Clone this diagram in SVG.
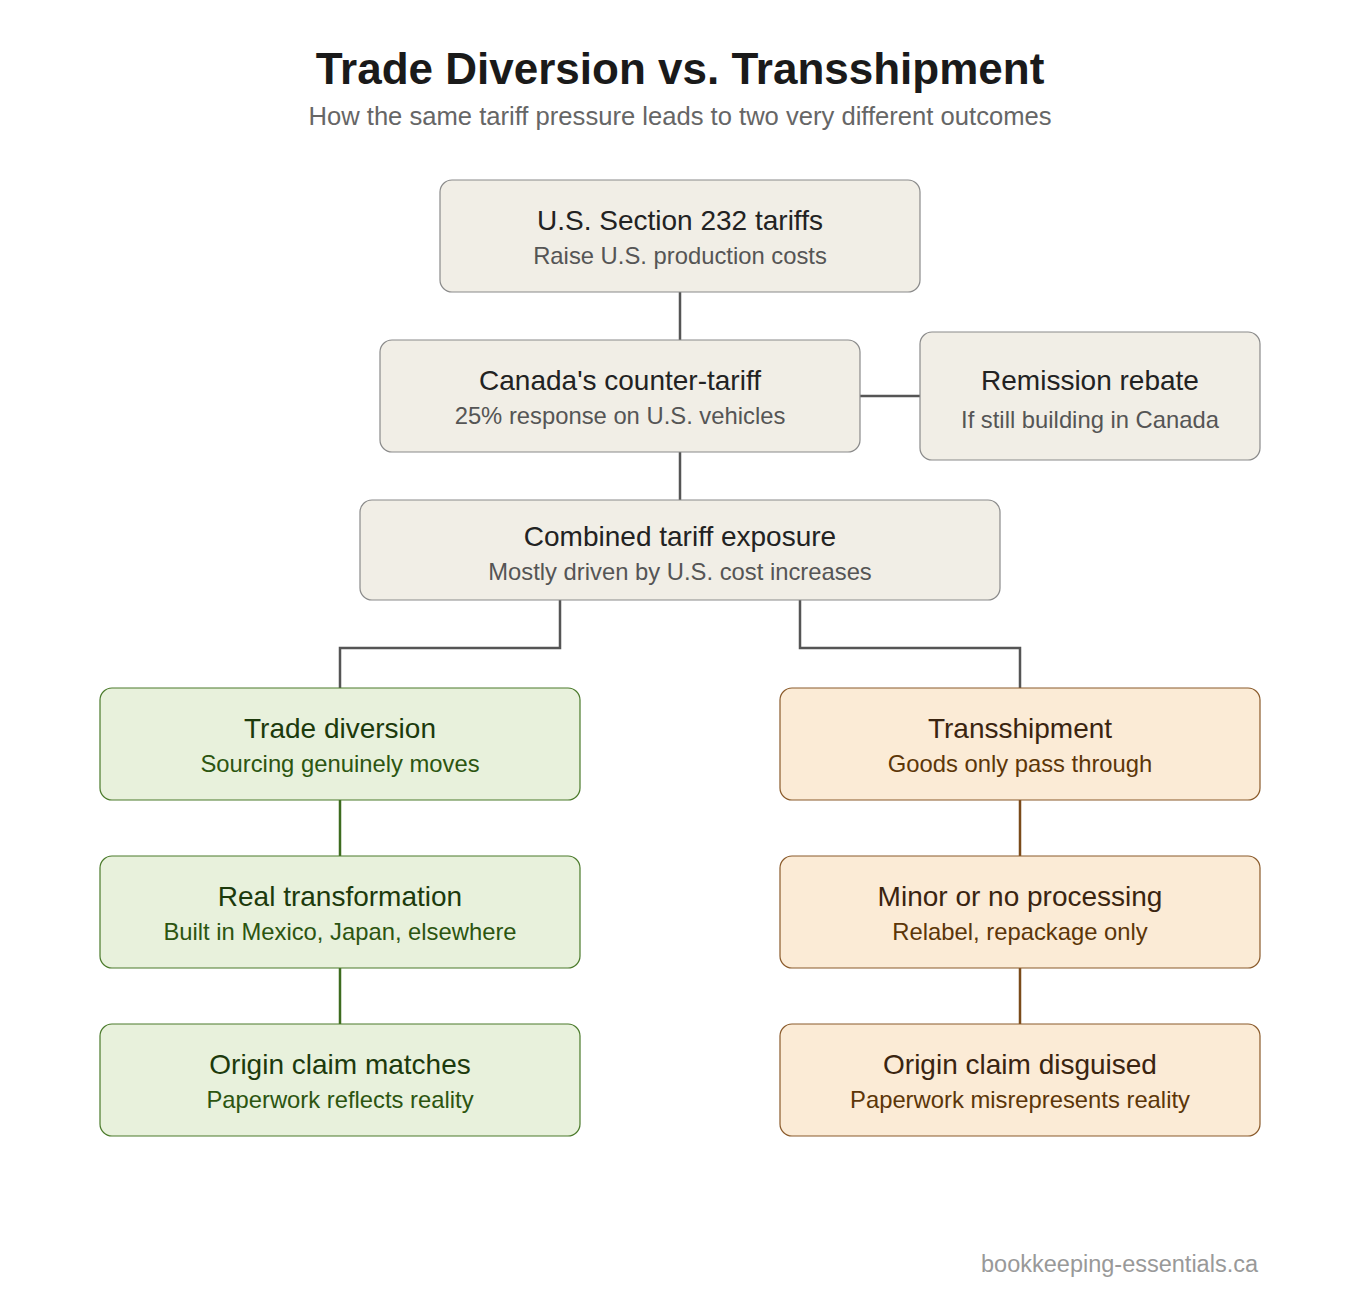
<svg xmlns="http://www.w3.org/2000/svg" width="1360" height="1300" viewBox="0 0 1360 1300">
<style>
text{font-family:"Liberation Sans",Arial,sans-serif;text-anchor:middle}
.n rect{fill:#f1eee6;stroke:#8a8a8a;stroke-width:1.2}
.g rect{fill:#e8f1dc;stroke:#4a7a2a;stroke-width:1.2}
.o rect{fill:#fbebd6;stroke:#8a5a2a;stroke-width:1.2}
.t{font-size:28px;fill:#222}
.s{font-size:23.8px;fill:#555}
.g .t{fill:#1c3a0c}.g .s{fill:#2c5510}
.o .t{fill:#3a2410}.o .s{fill:#5c3608}
.c path{fill:none;stroke-width:2.5}
</style>
<rect width="1360" height="1300" fill="#fff"/>
<text x="680" y="84" style="font-size:44px;font-weight:bold;fill:#1a1a1a">Trade Diversion vs. Transshipment</text>
<text x="680" y="125" style="font-size:25.6px;fill:#666">How the same tariff pressure leads to two very different outcomes</text>
<g class="c">
<path d="M680 292V340M680 452V500M860 396H920M560 600V648H340V688M800 600V648H1020V688" stroke="#555"/>
<path d="M340 800V856M340 968V1024" stroke="#3d6b1f"/>
<path d="M1020 800V856M1020 968V1024" stroke="#7a4a1a"/>
</g>
<g id="n1" class="n"><rect x="440" y="180" width="480" height="112" rx="12"/><text class="t" x="680" y="230">U.S. Section 232 tariffs</text><text class="s" x="680" y="264">Raise U.S. production costs</text></g>
<g id="n2" class="n"><rect x="380" y="340" width="480" height="112" rx="12"/><text class="t" x="620" y="390">Canada's counter-tariff</text><text class="s" x="620" y="424">25% response on U.S. vehicles</text></g>
<g id="n3" class="n"><rect x="920" y="332" width="340" height="128" rx="12"/><text class="t" x="1090" y="390">Remission rebate</text><text class="s" x="1090" y="428">If still building in Canada</text></g>
<g id="n4" class="n"><rect x="360" y="500" width="640" height="100" rx="12"/><text class="t" x="680" y="546">Combined tariff exposure</text><text class="s" x="680" y="580">Mostly driven by U.S. cost increases</text></g>
<g id="g1" class="g"><rect x="100" y="688" width="480" height="112" rx="12"/><text class="t" x="340" y="738">Trade diversion</text><text class="s" x="340" y="772">Sourcing genuinely moves</text></g>
<g id="g2" class="g"><rect x="100" y="856" width="480" height="112" rx="12"/><text class="t" x="340" y="906">Real transformation</text><text class="s" x="340" y="940">Built in Mexico, Japan, elsewhere</text></g>
<g id="g3" class="g"><rect x="100" y="1024" width="480" height="112" rx="12"/><text class="t" x="340" y="1074">Origin claim matches</text><text class="s" x="340" y="1108">Paperwork reflects reality</text></g>
<g id="o1" class="o"><rect x="780" y="688" width="480" height="112" rx="12"/><text class="t" x="1020" y="738">Transshipment</text><text class="s" x="1020" y="772">Goods only pass through</text></g>
<g id="o2" class="o"><rect x="780" y="856" width="480" height="112" rx="12"/><text class="t" x="1020" y="906">Minor or no processing</text><text class="s" x="1020" y="940">Relabel, repackage only</text></g>
<g id="o3" class="o"><rect x="780" y="1024" width="480" height="112" rx="12"/><text class="t" x="1020" y="1074">Origin claim disguised</text><text class="s" x="1020" y="1108">Paperwork misrepresents reality</text></g>
<text x="1258" y="1272" style="font-size:23.5px;fill:#999;text-anchor:end">bookkeeping-essentials.ca</text>
</svg>
